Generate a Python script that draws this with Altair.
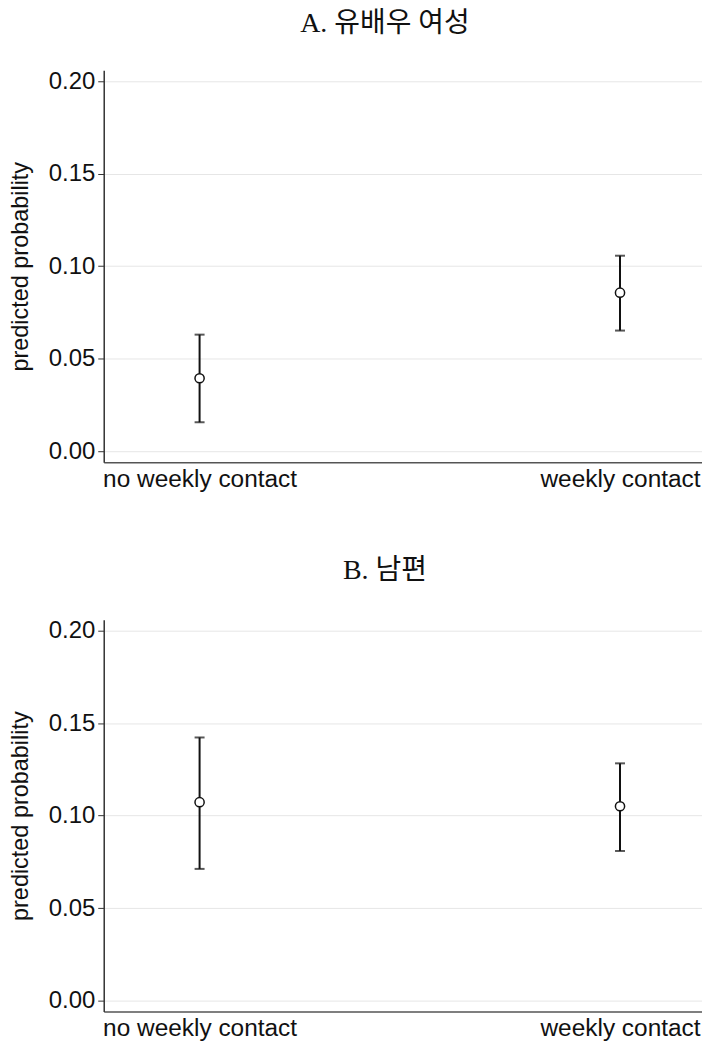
import altair as alt
import pandas as pd

# ---- data ----
categories = ["no weekly contact", "weekly contact"]
cat_pos = [0, 1]

panel_titles = ["A. 유배우 여성", "B. 남편"]

est_a = [0.0394, 0.0857]
lo_a = [0.0156, 0.0652]
hi_a = [0.0630, 0.1057]

est_b = [0.1073, 0.1051]
lo_b = [0.0712, 0.0809]
hi_b = [0.1423, 0.1283]

y_ticks = [0.0, 0.05, 0.10, 0.15, 0.20]

label_expr = "datum.value == 0 ? '" + categories[0] + "' : '" + categories[1] + "'"

SANS = "Liberation Sans"
TITLE_FONT = "Liberation Serif, Noto Sans CJK KR"


def panel(title, est, lo, hi, title_offset):
    df = pd.DataFrame({"pos": cat_pos, "cat": categories, "est": est, "lo": lo, "hi": hi})
    x = alt.X(
        "pos:Q",
        scale=alt.Scale(domain=[-0.228, 1.195], nice=False, zero=False),
        axis=alt.Axis(
            values=cat_pos, labelExpr=label_expr, ticks=False, grid=False, title=None,
            labelFont=SANS, labelFontSize=24.5, labelColor="#111", labelPadding=5,
            labelLimit=0, domainColor="#555", domainWidth=1.5, labelFlush=False,
        ),
    )
    y_axis = alt.Axis(
        values=y_ticks, format=".2f", title="predicted probability",
        labelFont=SANS, labelFontSize=24, labelColor="#111", labelPadding=3,
        titleFont=SANS, titleFontSize=23.5, titleFontWeight="normal", titleColor="#111",
        titlePadding=16, tickSize=6, tickColor="#333", tickWidth=1,
        domainColor="#333", domainWidth=1.5,
        grid=True, gridColor="#e6e6e6", gridWidth=1,
    )
    y_scale = alt.Scale(domain=[-0.006, 0.206], nice=False, zero=False)
    base = alt.Chart(df)
    rule = base.mark_rule(color="#111", strokeWidth=2).encode(
        x=x, y=alt.Y("lo:Q", scale=y_scale, axis=y_axis), y2="hi:Q"
    )
    cap_lo = base.mark_tick(orient="horizontal", color="#111", size=10, thickness=2).encode(
        x=x, y=alt.Y("lo:Q", scale=y_scale)
    )
    cap_hi = base.mark_tick(orient="horizontal", color="#111", size=10, thickness=2).encode(
        x=x, y=alt.Y("hi:Q", scale=y_scale)
    )
    pt = base.mark_point(
        shape="circle", size=85, fill="white", stroke="#111", strokeWidth=1.5,
        filled=True, opacity=1, fillOpacity=1,
    ).encode(x=x, y=alt.Y("est:Q", scale=y_scale))
    return alt.layer(rule, cap_lo, cap_hi, pt).properties(
        width=600, height=393,
        title=alt.TitleParams(
            text=title, font=TITLE_FONT, fontSize=28, fontWeight="normal", color="#111",
            anchor="middle", frame="group", offset=title_offset, dx=-18,
        ),
    )


chart = alt.vconcat(
    panel(panel_titles[0], est_a, lo_a, hi_a, 32),
    panel(panel_titles[1], est_b, lo_b, hi_b, 34),
    spacing=66,
).properties(padding=0, background="white").configure_view(stroke=None)

chart.save("out.html", embed_options={"renderer": "svg", "actions": False})
